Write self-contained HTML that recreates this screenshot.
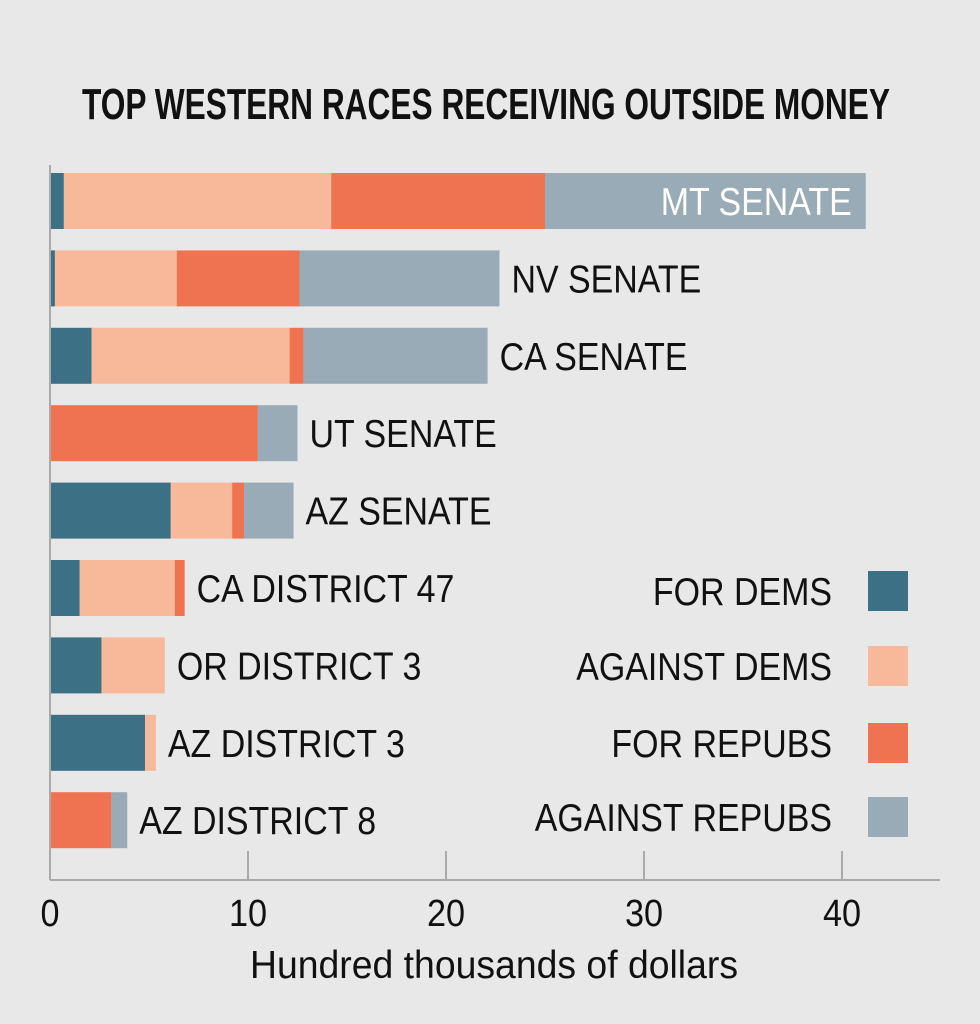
<!DOCTYPE html>
<html><head><meta charset="utf-8"><style>
html,body{margin:0;padding:0;background:#e8e8e9;}
svg{display:block;font-family:"Liberation Sans Narrow","Liberation Sans",sans-serif;}
</style></head><body>
<svg id="chart" width="980" height="1024" viewBox="0 0 980 1024">
<rect width="980" height="1024" fill="#e8e8e9"/>
<text x="486" y="119" text-anchor="middle" font-size="44" font-weight="bold" fill="#111" textLength="808" lengthAdjust="spacingAndGlyphs">TOP WESTERN RACES RECEIVING OUTSIDE MONEY</text>
<g id="bars"></g>
<g id="axis"></g>
<g id="legend"></g>
</svg>
<script>
const races = ["MT SENATE","NV SENATE","CA SENATE","UT SENATE","AZ SENATE","CA DISTRICT 47","OR DISTRICT 3","AZ DISTRICT 3","AZ DISTRICT 8"];
const forDems = [0.7,0.25,2.1,0,6.1,1.5,2.6,4.8,0];
const againstDems = [13.5,6.15,10.0,0,3.1,4.8,3.2,0.55,0];
const forRepubs = [10.8,6.2,0.7,10.5,0.6,0.5,0,0,3.1];
const againstRepubs = [16.2,10.1,9.3,2.0,2.5,0,0,0,0.8];
const ticks = [0,10,20,30,40];
const seriesNames = ["FOR DEMS","AGAINST DEMS","FOR REPUBS","AGAINST REPUBS"];
const colors = ["#3c7185","#f8b99b","#f07351","#98abb6"];
const NS="http://www.w3.org/2000/svg";
const x0=50, pxPer=19.8, rowTop=173, rowStep=77.4, barH=56;
const X=v=>x0+v*pxPer;
const Y=i=>rowTop+i*rowStep;
function mk(tag,attrs,parent){const e=document.createElementNS(NS,tag);for(const k in attrs)e.setAttribute(k,attrs[k]);parent.appendChild(e);return e;}
function squeeze(t,f){const w=t.getComputedTextLength();t.setAttribute('textLength',(w*f).toFixed(1));t.setAttribute('lengthAdjust','spacingAndGlyphs');}
const gb=document.getElementById('bars');
const series=[forDems,againstDems,forRepubs,againstRepubs];
races.forEach((r,i)=>{
  let acc=0;
  series.forEach((s,j)=>{
    if(s[i]>0){
      const rc=mk('rect',{x:X(acc),y:Y(i),width:s[i]*pxPer,height:barH,fill:colors[j]},gb);
      
      
    }
    acc+=s[i];
  });
  const inside = i===0;
  const t=mk('text',{x:inside?X(acc)-14:X(acc)+12,y:Y(i)+barH/2+14,'font-size':39,fill:inside?'#fff':'#111','text-anchor':inside?'end':'start'},gb);
  t.textContent=r;
  
  
  squeeze(t,0.87);
});
const ga=document.getElementById('axis');
const ax=mk('line',{x1:50,y1:880,x2:940,y2:880,stroke:'#aaa','stroke-width':2},ga);


const ay=mk('line',{x1:50,y1:165,x2:50,y2:880,stroke:'#aaa','stroke-width':2},ga);


ticks.forEach(v=>{
  if(v>0){const l=mk('line',{x1:X(v),y1:851,x2:X(v),y2:880,stroke:'#aaa','stroke-width':2},ga);
  
  }
  const t=mk('text',{x:X(v),y:926,'font-size':38,'text-anchor':'middle',fill:'#111'},ga);
  t.textContent=v;
  
  
  squeeze(t,0.9);
});
const at=mk('text',{x:494,y:978,'font-size':39,'text-anchor':'middle',fill:'#111',textLength:488,lengthAdjust:'spacingAndGlyphs'},ga);
at.textContent='Hundred thousands of dollars';


const gl=document.getElementById('legend');
const legY=[571,646,723,797];
seriesNames.forEach((n,j)=>{
  const r=mk('rect',{x:868,y:legY[j],width:40,height:40,fill:colors[j]},gl);
  
  
  const t=mk('text',{x:832,y:legY[j]+34,'font-size':39,'text-anchor':'end',fill:'#111'},gl);
  t.textContent=n;
  
  
  squeeze(t,0.87);
});
</script>
</body></html>
